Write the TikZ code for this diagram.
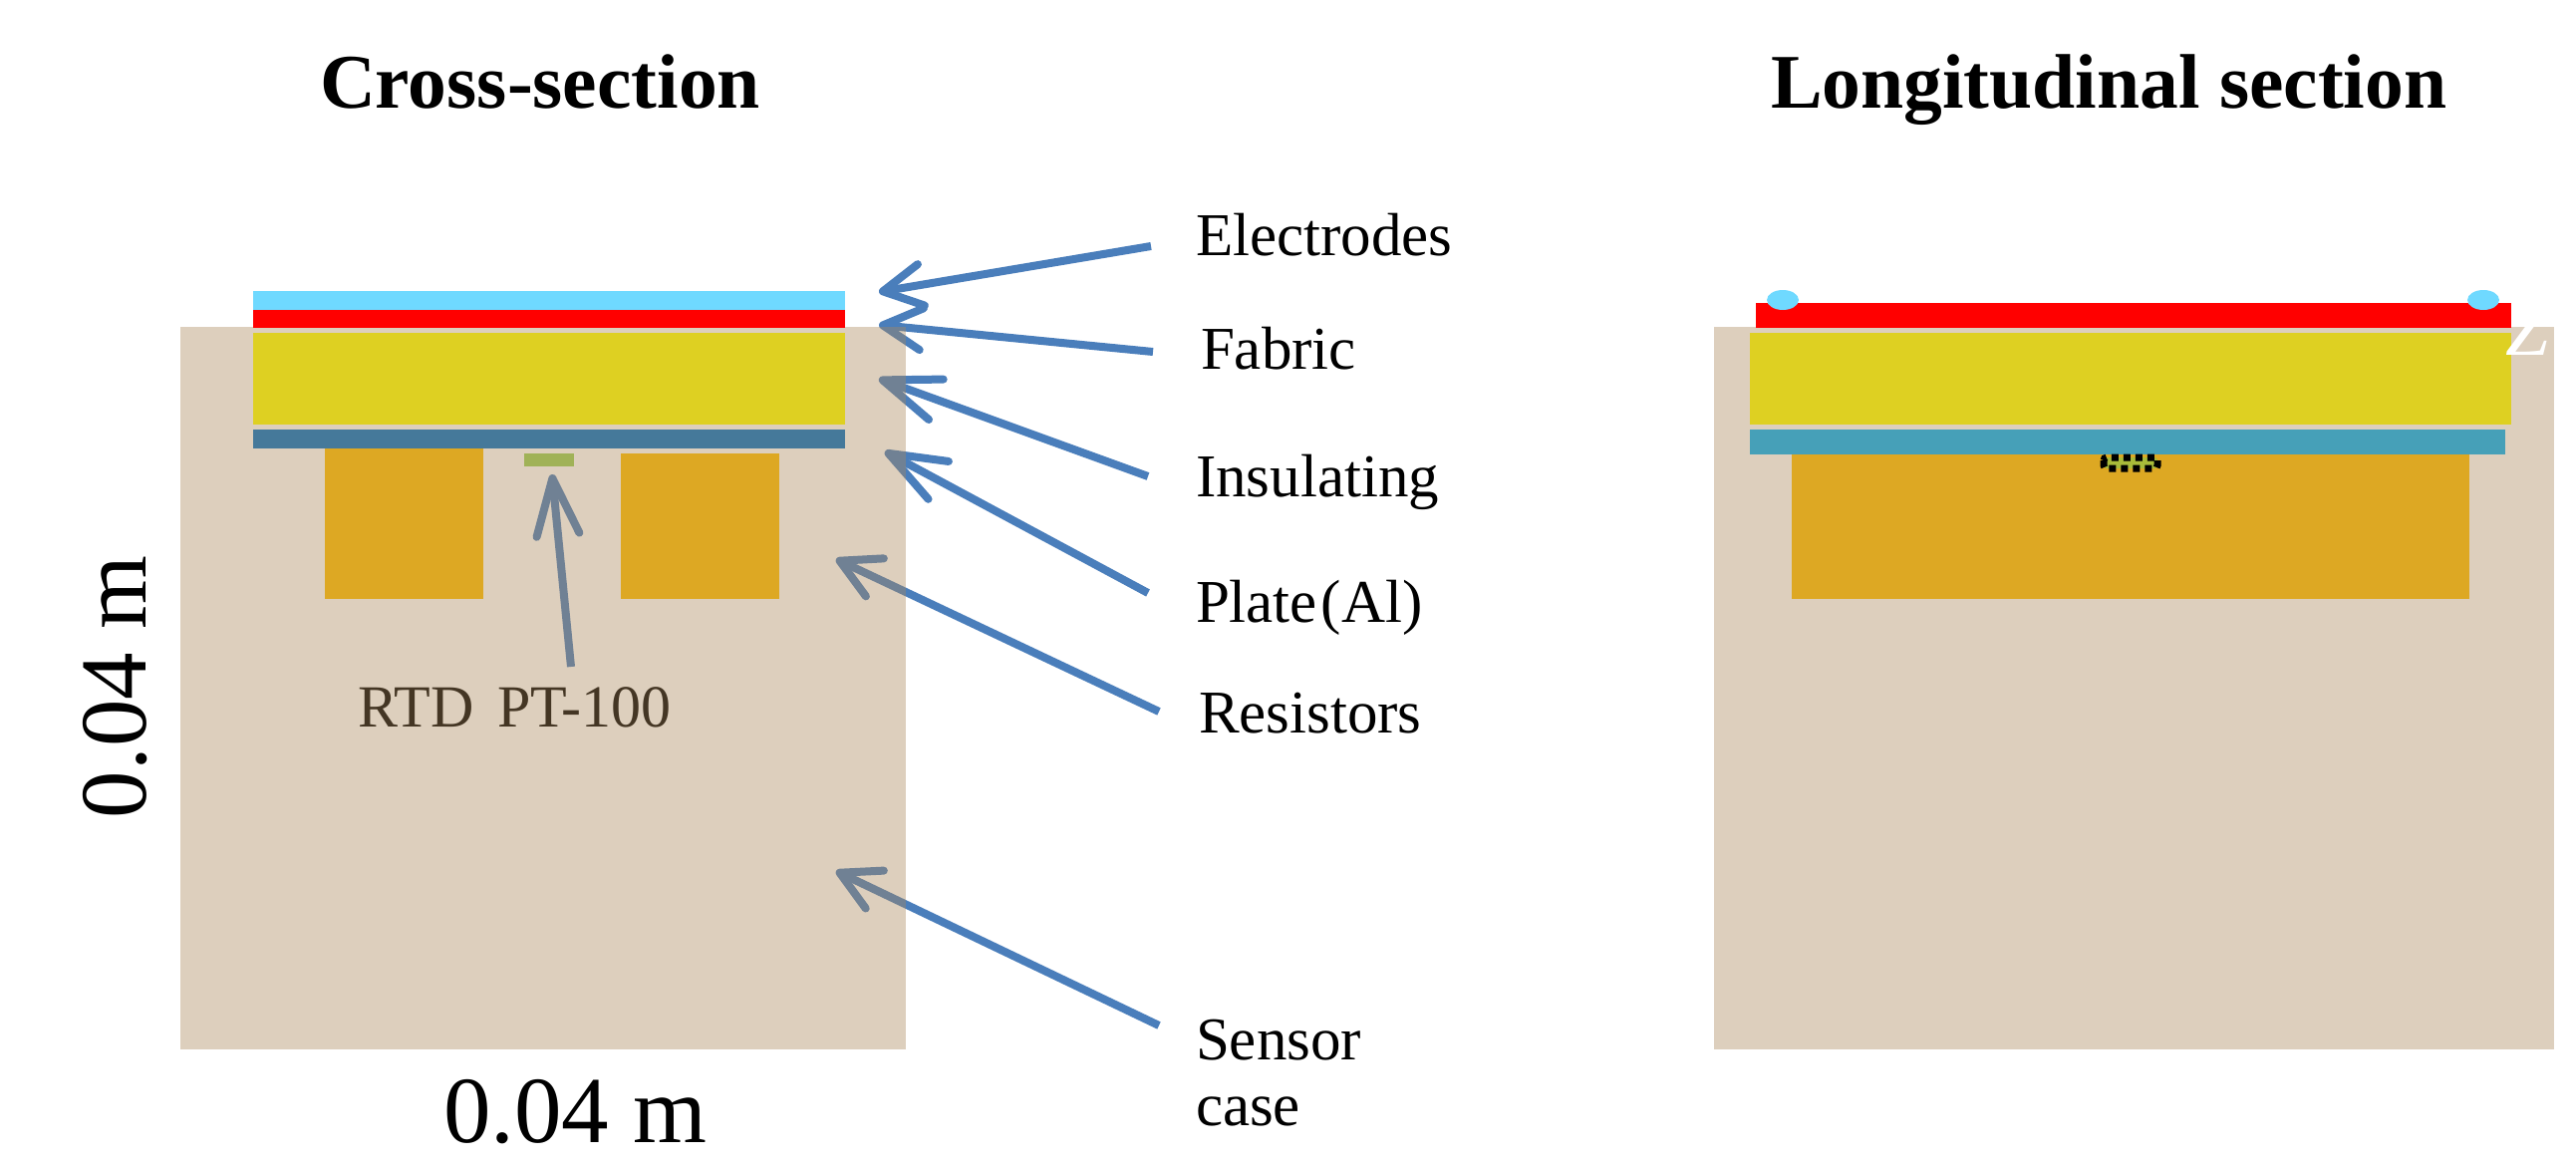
\documentclass[tikz,border=0pt]{standalone}
\usepackage{fontspec}
\setmainfont{Liberation Serif}
\usetikzlibrary{arrows.meta}
\definecolor{arrowblue}{HTML}{4A7EBB}
\definecolor{casebase}{HTML}{AA875A}
\definecolor{cyanlayer}{HTML}{6FD9FF}
\definecolor{fabricred}{HTML}{FF0000}
\definecolor{insulyellow}{HTML}{DED022}
\definecolor{plateleft}{HTML}{45799A}
\definecolor{plateright}{HTML}{46A0B8}
\definecolor{resorange}{HTML}{DDA823}
\definecolor{rtdlime}{HTML}{A0B257}
\definecolor{rtdbright}{HTML}{A8BB3A}
\tikzset{
  lbl/.style={inner sep=0pt,outer sep=0pt,anchor=base west,font=\fontsize{61}{61}\selectfont},
  ttl/.style={inner sep=0pt,outer sep=0pt,anchor=base west,font=\fontsize{77.5}{77.5}\selectfont\bfseries},
  dim/.style={inner sep=0pt,outer sep=0pt,font=\fontsize{95}{95}\selectfont},
  pointer/.style={draw=arrowblue,line width=8pt,-{Straight Barb[length=39pt,width=42pt,round]}},
  longpointer/.style={draw=arrowblue,line width=8pt,-{Straight Barb[length=57pt,width=43pt,round]}},
  casebody/.style={fill=casebase,fill opacity=0.4,draw=none}
}
\begin{document}
\begin{tikzpicture}[x=1pt,y=-1pt]
\useasboundingbox (0,0) rectangle (2585,1174);
\fill[white] (0,0) rectangle (2585,1174);
% titles
\node[ttl] (t1) at (321,109) {Cross-section};
\node[ttl] (t2) at (1777,109) {Longitudinal section};
% labels
\node[lbl] (le) at (1200,257) {Electrodes};
\node[lbl] (lf) at (1205,370) {Fabric};
\node[lbl] (li) at (1200,498) {Insulating};
\node[lbl] (lp) at (1200,624) {Plate\hspace{4pt}(Al)};
\node[lbl] (lr) at (1203,735) {Resistors};
\node[lbl] (ls) at (1200,1063) {Sensor};
\node[lbl] (lc) at (1200,1129) {case};
\node[lbl,font=\fontsize{60}{60}\selectfont] (lt) at (359,729) {RTD\hspace{24pt}PT-100};
\node[dim,anchor=base west] (dx) at (445,1146) {0.04 m};
\node[dim,anchor=base west,rotate=90] (dy) at (146,821) {0.04 m};
% connector ends
\coordinate (te) at (1155,247); \coordinate (he) at (882,293);
\coordinate (tf) at (1157,353); \coordinate (hf) at (882,326);
\coordinate (ti) at (1152,478); \coordinate (hi) at (882,380);
\coordinate (tp) at (1152,595); \coordinate (hp) at (888,453);
\coordinate (tr) at (1163,714); \coordinate (hr) at (839,561);
\coordinate (ts) at (1163,1029); \coordinate (hs) at (839,874);
\coordinate (tt) at (573,669); \coordinate (ht) at (554,476);
\draw[pointer] (te) -- (he);
\draw[pointer] (tf) -- (hf);
\draw[longpointer] (ti) -- (hi);
\draw[longpointer] (tp) -- (hp);
\draw[pointer] (tr) -- (hr);
\draw[pointer] (ts) -- (hs);
\draw[longpointer] (tt) -- (ht);
% cross-section
\path[casebody] (181,328) rectangle (909,1053);
\fill[cyanlayer] (254,292) rectangle (848,311);
\fill[fabricred] (254,311) rectangle (848,329);
\fill[insulyellow] (254,334) rectangle (848,426);
\fill[plateleft] (254,431) rectangle (848,450);
\fill[resorange] (326,450) rectangle (485,601);
\fill[resorange] (623,455) rectangle (782,601);
\fill[rtdlime] (526,455) rectangle (576,468);
% longitudinal section
\path[casebody] (1720,328) rectangle (2563,1053);
\fill[fabricred] (1762,304) rectangle (2520,329);
\fill[cyanlayer] (1789,301) ellipse [x radius=16pt,y radius=10pt];
\fill[cyanlayer] (2492,301) ellipse [x radius=16pt,y radius=10pt];
\fill[insulyellow] (1756,334) rectangle (2520,426);
\fill[plateright] (1756,431) rectangle (2514,456);
\fill[resorange] (1798,456) rectangle (2478,601);
\draw[fill=rtdbright,draw=black,line width=7pt,dash pattern=on 7pt off 5pt,rounded corners=3pt] (2111,459) rectangle (2165,470);
\begin{scope}
\clip (2500,328) rectangle (2570,370);
\node[inner sep=0pt,outer sep=0pt,anchor=base west,text=white,font=\fontsize{78}{78}\selectfont\itshape] (zz) at (2514,356) {Z};
\end{scope}
\end{tikzpicture}
\end{document}
